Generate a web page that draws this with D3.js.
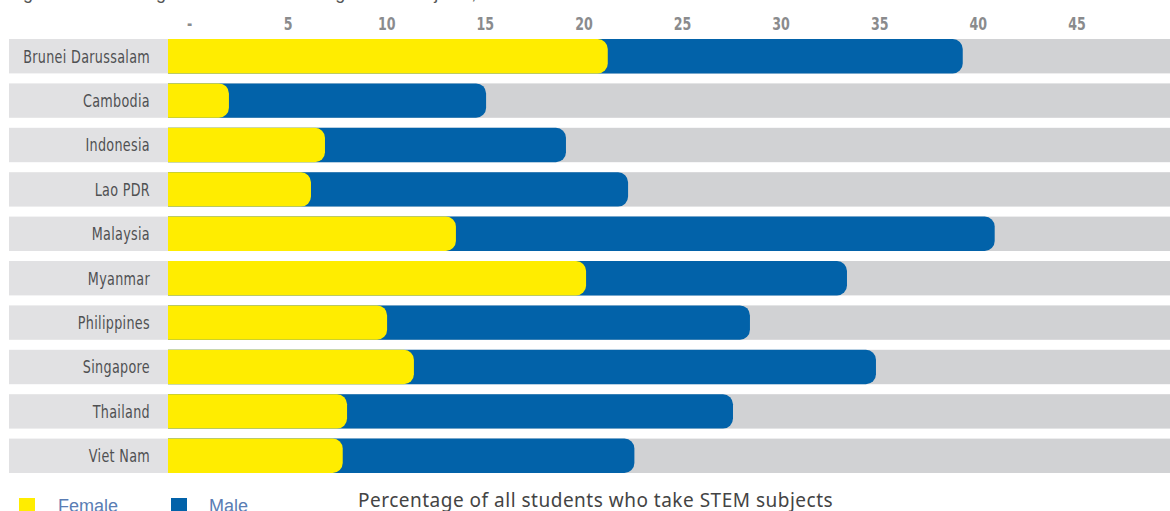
<!DOCTYPE html>
<html><head><meta charset="utf-8">
<script src="https://cdn.jsdelivr.net/npm/d3@7"></script>
<style>
html,body{margin:0;padding:0;background:#fff;overflow:hidden;}
svg{display:block;}
</style></head>
<body>
<svg id="chart" width="1170" height="511"></svg>
<script>
const countries = ["Brunei Darussalam","Cambodia","Indonesia","Lao PDR","Malaysia","Myanmar","Philippines","Singapore","Thailand","Viet Nam"];
const female = [22.30, 3.09, 7.96, 7.25, 14.60, 21.20, 11.11, 12.47, 9.08, 8.86];
const male   = [18.00, 13.04, 12.22, 16.08, 27.32, 13.23, 18.40, 23.43, 19.57, 14.79];
const tickValues = [0,5,10,15,20,25,30,35,40,45];
const tickLabels = ["-","5","10","15","20","25","30","35","40","45"];
const seriesNames = ["Female","Male"];
const colors = {Female:"#FFED00", Male:"#0262A9"};
const titleText = "Figure 6: Percentage of all students taking STEM subjects, ASEAN Member States";
const axisTitle = "Percentage of all students who take STEM subjects";

const svg = d3.select("#chart");
const W = 1170;
const condensed = "'DejaVu Sans Condensed','Liberation Sans Narrow',sans-serif";

const x = d3.scaleLinear().domain([0, 50.81]).range([168, W]);
const bandStep = 44.4, bandH = 34.4;
const yTop = c => 39 + countries.indexOf(c)*bandStep;

// partially visible title (cut at the top edge as in the reference)
svg.append("text").attr("x", 8).attr("y", -1.5).attr("fill","#555")
  .style("font-family","'Liberation Sans',Arial,sans-serif").style("font-size","18px")
  .text(titleText);

// tick labels (offset as in the original)
const axis = d3.axisTop(x).tickValues(tickValues).tickFormat((d,i)=>tickLabels[i]).tickSize(0).tickPadding(0);
const ag = svg.append("g").attr("transform","translate(21,30)").call(axis);
ag.select(".domain").remove();
ag.selectAll("text").attr("fill","#8a8b8d").style("font-family",condensed)
  .style("font-size","18px").style("font-weight","bold").attr("dy",0)
  .attr("transform","scale(0.78,1)");

const rows = svg.append("g").selectAll("g").data(countries).join("g");

// label box
rows.append("rect").attr("x",9).attr("width",x(0)-9).attr("y",d=>yTop(d)).attr("height",bandH).attr("fill","#E1E1E3");
// track
rows.append("rect").attr("x",x(0)).attr("width",W-x(0)).attr("y",d=>yTop(d)).attr("height",bandH).attr("fill","#D1D2D4");

function roundRight(x0,x1,yy,h,r){
  r = Math.min(r, x1-x0, h/2);
  return `M${x0},${yy}H${x1-r}A${r},${r} 0 0 1 ${x1},${yy+r}V${yy+h-r}A${r},${r} 0 0 1 ${x1-r},${yy+h}H${x0}Z`;
}
// male (total) bar behind
rows.append("path").attr("fill",colors.Male)
  .attr("d",(d,i)=>roundRight(x(0), x(female[i]+male[i]), yTop(d), bandH, 10));
// female on top
rows.append("path").attr("fill",colors.Female)
  .attr("d",(d,i)=>roundRight(x(0), x(female[i]), yTop(d), bandH, 10));

// country labels
rows.append("text")
  .attr("transform",d=>`translate(150,${yTop(d)+bandH/2}) scale(0.81,1)`)
  .attr("dy","0.36em")
  .attr("text-anchor","end").attr("fill","#4f5052")
  .style("font-family",condensed).style("font-size","17.5px").style("letter-spacing","0.4px")
  .text(d=>d);

// legend
const lg = svg.append("g");
const legX = [19, 171];
const legTX = [58, 209];
seriesNames.forEach((s,i)=>{
  lg.append("rect").attr("x",legX[i]).attr("y",498).attr("width",16).attr("height",16).attr("fill",colors[s]);
  lg.append("text").attr("x",legTX[i]).attr("y",512).attr("fill","#5a7db4")
    .style("font-family","'Liberation Sans',Arial,sans-serif").style("font-size","18px").text(s);
});

// axis title
svg.append("text").attr("x",358).attr("y",507).attr("fill","#444")
  .style("font-family","'Noto Sans','Liberation Sans',sans-serif").style("font-size","19px")
  .style("letter-spacing","0.5px")
  .text(axisTitle);
</script>
</body></html>
